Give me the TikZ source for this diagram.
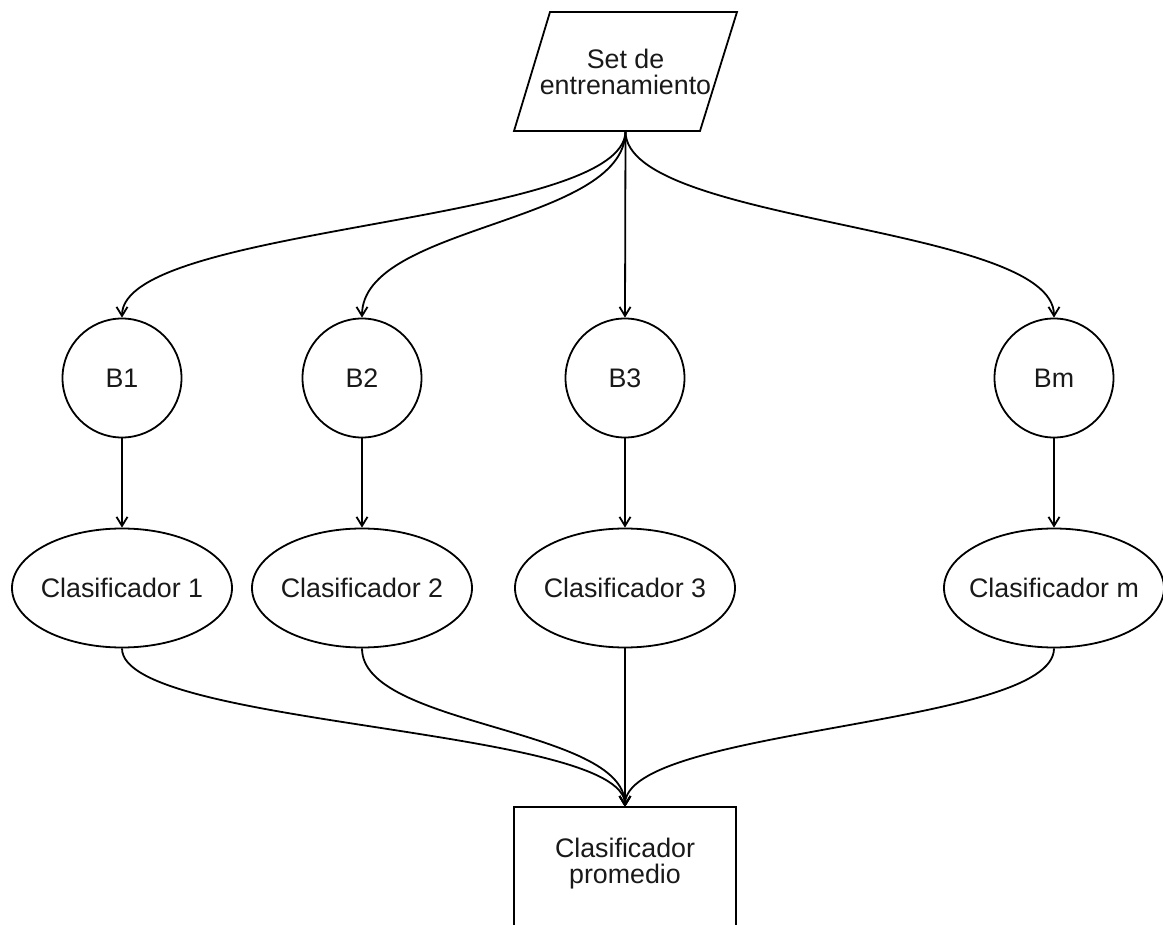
\documentclass[tikz,border=0pt]{standalone}
\usepackage{fontspec}
\setmainfont{Liberation Sans}
\usetikzlibrary{arrows.meta,shapes.geometric,calc}
\newcommand\zwtext[1]{\makebox[0pt]{#1}}
\begin{document}
\begin{tikzpicture}[x=1pt,y=-1pt,
  every node/.style={font=\fontsize{26.8}{26}\selectfont, text=black!90},
  line/.style={line width=1.8pt, draw=black},
  arr/.style={line, -{Straight Barb[length=9pt,width=11pt,line width=1.8pt]}},
  bnode/.style={circle, line, minimum size=119pt, inner sep=0pt},
  cnode/.style={ellipse, line, minimum width=220pt, minimum height=119pt, inner sep=0pt},
]
\useasboundingbox (0,0) rectangle (1163,925);
% training set (parallelogram)
\node[minimum width=186pt, minimum height=119pt, inner sep=0pt, align=center] (set) at (625.5,71.5) {Set de\\entrenamiento};
\draw[line, line join=miter] (514,131) -- (700,131) -- (737,12) -- (550,12) -- cycle;
% bootstrap samples
\node[bnode] (b1) at (122,378) {B1};
\node[bnode] (b2) at (362,378) {B2};
\node[bnode] (b3) at (625,378) {B3};
\node[bnode] (bm) at (1054,378) {Bm};
% classifiers
\node[cnode] (c1) at (122,588) {\zwtext{Clasificador 1}};
\node[cnode] (c2) at (362,588) {\zwtext{Clasificador 2}};
\node[cnode] (c3) at (625,588) {\zwtext{Clasificador 3}};
\node[cnode] (cm) at (1054,588) {\zwtext{Clasificador m}};
% average classifier
\node[minimum width=222pt, minimum height=114pt, inner sep=0pt, align=center] (prom) at (625,864) {Clasificador\\promedio};
\draw[line] ($(prom.south west)+(0,20)$) -- (prom.north west) -- (prom.north east) -- ($(prom.south east)+(0,20)$);
% edges top
\draw[arr] (set.south) .. controls (625,224.5) and (122,224.5) .. (b1.north);
\draw[arr] (set.south) .. controls (625,224.5) and (362,224.5) .. (b2.north);
\draw[arr] (set.south) -- (b3.north);
\draw[arr] (set.south) .. controls (625,224.5) and (1054,224.5) .. (bm.north);
% edges middle
\draw[arr] (b1.south) -- (c1.north);
\draw[arr] (b2.south) -- (c2.north);
\draw[arr] (b3.south) -- (c3.north);
\draw[arr] (bm.south) -- (cm.north);
% edges bottom
\draw[arr] (c1.south) .. controls (122,727) and (625,727) .. (prom.north);
\draw[arr] (c2.south) .. controls (362,727) and (625,727) .. (prom.north);
\draw[arr] (c3.south) -- (prom.north);
\draw[arr] (cm.south) .. controls (1054,727) and (625,727) .. (prom.north);
\end{tikzpicture}
\end{document}
